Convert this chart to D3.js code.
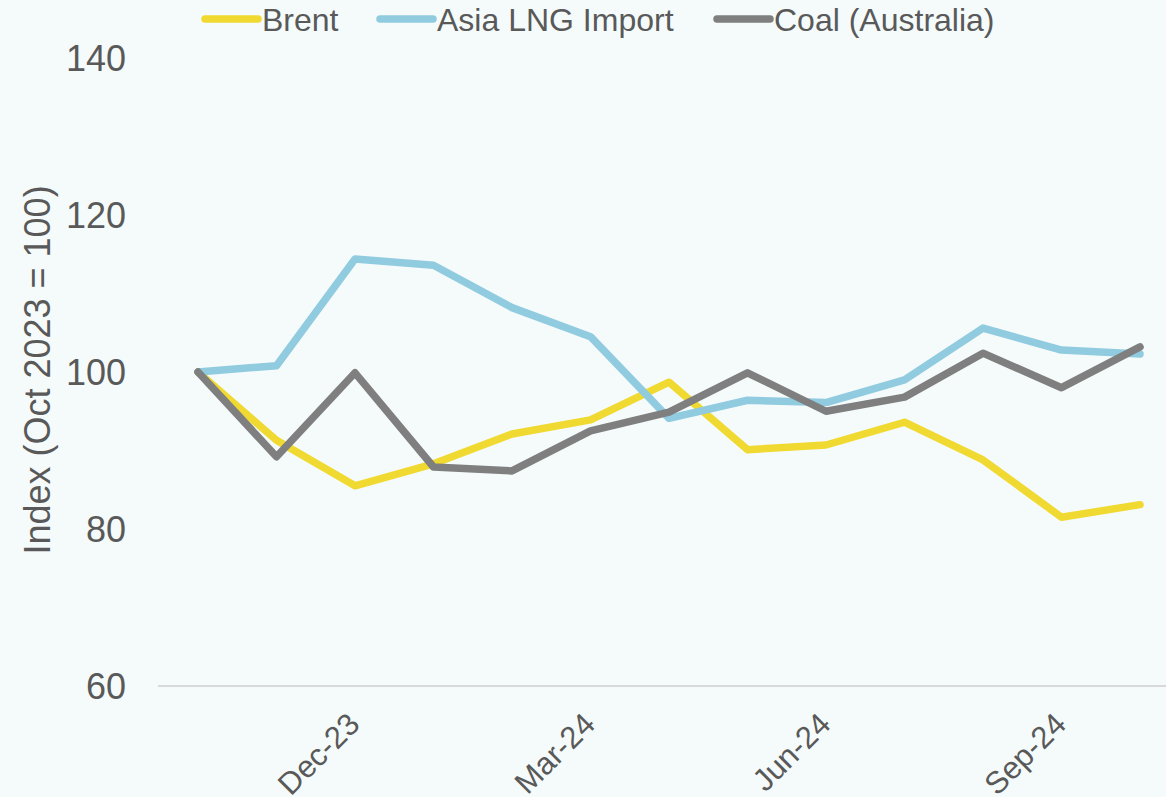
<!DOCTYPE html>
<html>
<head>
<meta charset="utf-8">
<script src="https://cdn.jsdelivr.net/npm/d3@7"></script>
<style>
  body { margin: 0; background: #f5fbfb; }
  svg { display: block; font-family: "Liberation Sans", Arial, sans-serif; }
</style>
</head>
<body>
<svg id="chart" width="1166" height="797"></svg>
<script>
const months = ['Oct-23', 'Nov-23', 'Dec-23', 'Jan-24', 'Feb-24', 'Mar-24', 'Apr-24',
                'May-24', 'Jun-24', 'Jul-24', 'Aug-24', 'Sep-24', 'Oct-24'];
const tickMonths = ['Dec-23', 'Mar-24', 'Jun-24', 'Sep-24'];
const yTicks = [60, 80, 100, 120, 140];

const brent = [100, 91.3, 85.5, 88.3, 92.1, 93.9, 98.7, 90.1, 90.7, 93.6, 88.8, 81.5, 83.1];
const lng   = [100, 100.8, 114.4, 113.6, 108.2, 104.5, 94.1, 96.4, 96.1, 99.0, 105.6, 102.8, 102.3];
const coal  = [100, 89.2, 99.9, 87.9, 87.4, 92.5, 94.9, 99.9, 95.0, 96.8, 102.4, 98.0, 103.2];

const series = [
    {name: 'Brent', values: brent, color: '#f0da32'},
    {name: 'Asia LNG Import', values: lng, color: '#90cbe0'},
    {name: 'Coal (Australia)', values: coal, color: '#7f7f7f'}
];

const width = 1166, height = 797;
const svg = d3.select('#chart');

svg.append('rect').attr('width', width).attr('height', height).attr('fill', '#f5fbfb');

const x = d3.scalePoint().domain(months).range([198, 1140]);
const y = d3.scaleLinear().domain([60, 140]).range([686, 58]);

// baseline at 60
svg.append('line')
    .attr('x1', 158).attr('x2', width)
    .attr('y1', y(60)).attr('y2', y(60))
    .attr('stroke', '#d9d9d9').attr('stroke-width', 2);

// y axis labels
const yAxis = svg.append('g')
    .attr('transform', 'translate(126,0)')
    .call(d3.axisLeft(y).tickValues(yTicks).tickSize(0).tickPadding(0));
yAxis.select('.domain').remove();
yAxis.selectAll('text')
    .attr('fill', '#595959')
    .style('font-size', '36px')
    .attr('dy', '0.36em');

svg.append('text')
    .attr('transform', `translate(50,${y(100) - 2}) rotate(-90)`)
    .attr('text-anchor', 'middle')
    .attr('fill', '#595959')
    .style('font-size', '36px')
    .text('Index (Oct 2023 = 100)');

// x axis labels
const xAxis = svg.append('g')
    .attr('transform', `translate(0,${y(60)})`)
    .call(d3.axisBottom(x).tickValues(tickMonths).tickSize(0).tickPadding(0));
xAxis.select('.domain').remove();
xAxis.selectAll('text')
    .attr('fill', '#595959')
    .style('font-size', '31px')
    .attr('text-anchor', 'end')
    .attr('dy', null)
    .attr('y', null)
    .attr('transform', 'translate(6,40) rotate(-45)');

// lines
const line = d3.line()
    .x((d, i) => x(months[i]))
    .y(d => y(d));

svg.append('g').selectAll('path')
    .data(series)
    .join('path')
    .attr('d', d => line(d.values))
    .attr('fill', 'none')
    .attr('stroke', d => d.color)
    .attr('stroke-width', 7.5)
    .attr('stroke-linecap', 'round')
    .attr('stroke-linejoin', 'round');

// legend
const legendX = [205, 380, 717];
const legend = svg.append('g').selectAll('g')
    .data(series)
    .join('g')
    .attr('transform', (d, i) => `translate(${legendX[i]},19)`);
legend.append('line')
    .attr('x1', 0).attr('x2', 53)
    .attr('stroke', d => d.color)
    .attr('stroke-width', 7.5)
    .attr('stroke-linecap', 'round');
legend.append('text')
    .attr('x', 57)
    .attr('dy', '0.36em')
    .attr('fill', '#595959')
    .style('font-size', '32px')
    .text(d => d.name);
</script>
</body>
</html>
